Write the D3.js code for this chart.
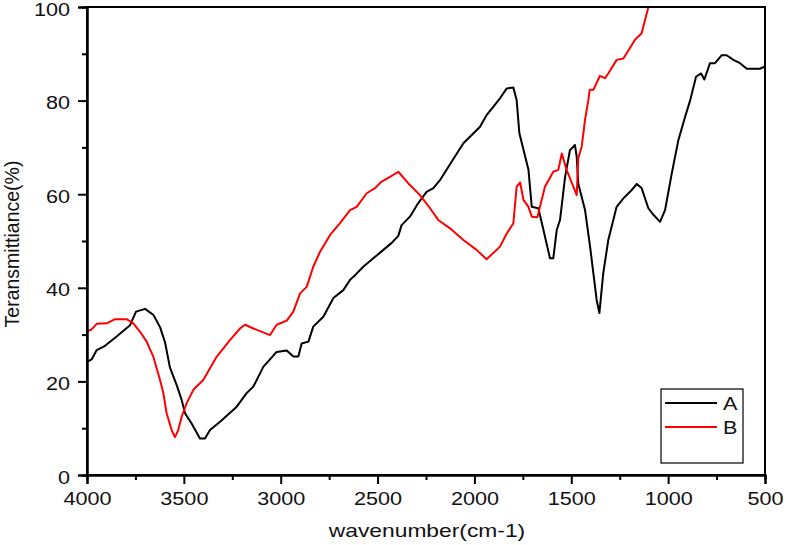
<!DOCTYPE html>
<html><head><meta charset="utf-8">
<script src="https://cdn.jsdelivr.net/npm/d3@7"></script>
<style>body{margin:0;background:#fff;}svg text{font-family:"Liberation Sans",Arial,sans-serif;fill:#111;}</style>
</head><body><svg id="c" width="786" height="545"></svg>
<script>
const waveA=[3995,3976,3950,3907,3847,3778,3747,3700,3657,3623,3597,3572,3537,3511,3494,3460,3417,3391,3365,3313,3227,3176,3141,3090,3021,2969,2935,2909,2892,2857,2832,2780,2728,2677,2642,2616,2574,2522,2470,2427,2393,2376,2333,2290,2247,2212,2178,2126,2057,1971,1937,1868,1833,1799,1782,1768,1721,1704,1670,1644,1610,1593,1575,1558,1532,1507,1481,1472,1464,1429,1403,1369,1355,1335,1309,1283,1266,1231,1188,1162,1137,1102,1076,1042,1016,981,947,912,886,856,830,813,784,758,723,698,663,629,594,526,500];
const transA=[24.3,24.7,26.7,27.6,29.6,32.0,34.9,35.5,34.2,31.6,28.3,23.0,19.2,16.0,13.2,11.0,7.8,7.8,9.6,11.4,14.6,17.5,18.9,23.1,26.3,26.6,25.3,25.3,28.1,28.5,31.7,33.8,37.8,39.5,41.7,42.7,44.5,46.3,48.1,49.6,51.1,53.4,55.2,58.1,60.5,61.3,63.0,66.4,70.9,74.4,76.9,80.5,82.6,82.8,80.1,73.0,65.2,57.3,57.0,52.4,46.3,46.3,52.4,54.5,63.7,69.4,70.5,68.0,62.3,56.6,48.8,37.4,34.6,43.1,50.2,54.5,57.3,59.1,60.9,62.2,61.3,57.0,55.6,54.1,56.6,64.5,71.6,76.6,80.1,85.1,85.8,84.5,88.0,88.0,89.7,89.7,88.7,88.0,86.8,86.8,87.3];
const waveB=[3995,3976,3950,3898,3855,3795,3761,3726,3692,3658,3623,3606,3589,3563,3546,3529,3511,3486,3451,3400,3330,3262,3210,3184,3141,3055,3021,2969,2935,2900,2866,2832,2797,2745,2694,2642,2608,2556,2513,2479,2436,2393,2341,2281,2229,2187,2126,2057,1989,1937,1868,1833,1799,1782,1764,1747,1721,1704,1675,1636,1593,1567,1549,1524,1472,1464,1446,1429,1412,1405,1386,1352,1326,1309,1266,1231,1171,1137,1102];
const transB=[30.8,31.1,32.3,32.4,33.3,33.3,32.4,30.6,28.5,25.3,20.3,17.5,13.2,9.6,8.1,9.6,12.5,15.3,18.2,20.3,25.3,28.8,31.3,32.1,31.3,29.9,32.1,33.0,34.9,38.8,40.2,44.5,47.7,51.3,53.8,56.6,57.3,60.2,61.3,62.7,63.7,64.8,62.3,59.8,57.0,54.5,52.7,50.2,48.1,46.1,48.8,51.6,53.8,61.6,62.5,58.8,57.3,55.2,55.1,61.6,64.8,65.2,68.7,65.2,59.8,67.7,70.2,75.9,80.1,82.3,82.3,85.3,84.8,85.8,88.7,89.0,93.0,94.4,100.0];
const xTicks=[4000,3500,3000,2500,2000,1500,1000,500];
const xMinor=[3750,3250,2750,2250,1750,1250,750];
const yTicks=[0,20,40,60,80,100];
const yMinor=[10,30,50,70,90];
const seriesNames=["A","B"];
const seriesColors=["#000000","#ff0000"];

const svg=d3.select("#c");
const x=d3.scaleLinear().domain([4000,500]).range([87,765]);
const y=d3.scaleLinear().domain([0,100]).range([475,7]);

svg.append("defs").append("clipPath").attr("id","clip").append("rect")
  .attr("x",87).attr("y",7).attr("width",678).attr("height",468);

const line=d3.line().x(d=>x(d[0])).y(d=>y(d[1]));
const dataA=waveA.map((w,i)=>[w,transA[i]]);
const dataB=waveB.map((w,i)=>[w,transB[i]]);
const plot=svg.append("g").attr("clip-path","url(#clip)");
plot.append("path").datum(dataA).attr("d",line).attr("fill","none").attr("stroke",seriesColors[0]).attr("stroke-width",2).attr("stroke-linejoin","round");
plot.append("path").datum(dataB).attr("d",line).attr("fill","none").attr("stroke",seriesColors[1]).attr("stroke-width",2).attr("stroke-linejoin","round");

// frame
svg.append("rect").attr("x",87).attr("y",7).attr("width",678).attr("height",468)
  .attr("fill","none").attr("stroke","#000").attr("stroke-width",2);

// axes
const xAxis=svg.append("g").attr("transform","translate(0,475)")
  .call(d3.axisBottom(x).tickValues(xTicks).tickFormat(d3.format("d")).tickSize(9).tickPadding(8));
svg.append("g").attr("transform","translate(0,475)")
  .call(d3.axisBottom(x).tickValues(xMinor).tickFormat("").tickSize(5));
const yAxis=svg.append("g").attr("transform","translate(87,0)")
  .call(d3.axisLeft(y).tickValues(yTicks).tickSize(9).tickPadding(8));
svg.append("g").attr("transform","translate(87,0)")
  .call(d3.axisLeft(y).tickValues(yMinor).tickFormat("").tickSize(5));
svg.selectAll(".domain").attr("stroke","#000").attr("stroke-width",2);
svg.selectAll(".tick line").attr("stroke","#000").attr("stroke-width",2);
svg.selectAll(".tick text").attr("font-size",18).style("font-family","'Liberation Sans',Arial,sans-serif").attr("fill","#111");
yAxis.selectAll(".tick text").attr("dy","0.45em");

// stretch texts horizontally
function stretch(sel,f){sel.each(function(){const L=this.getComputedTextLength();if(L>0){d3.select(this).attr("textLength",L*f).attr("lengthAdjust","spacingAndGlyphs");}});}
stretch(xAxis.selectAll(".tick text"),1.2);
stretch(yAxis.selectAll(".tick text"),1.2);

const xl=svg.append("text").attr("x",427).attr("y",537).attr("text-anchor","middle").attr("font-size",19).text("wavenumber(cm-1)");
stretch(xl,1.2);
svg.append("text").attr("transform","translate(19,244) rotate(-90)").attr("text-anchor","middle").attr("font-size",19.5).text("Teransmittiance(%)");

// legend
const lg=svg.append("g");
lg.append("rect").attr("x",661).attr("y",389).attr("width",82).attr("height",74).attr("fill","#fff").attr("stroke","#000").attr("stroke-width",1.2);
seriesNames.forEach((n,i)=>{
  const yy=403+i*24;
  lg.append("line").attr("x1",665).attr("x2",717).attr("y1",yy).attr("y2",yy).attr("stroke",seriesColors[i]).attr("stroke-width",2);
  const t=lg.append("text").attr("x",723).attr("y",yy+6.5).attr("font-size",18).text(n);
  stretch(t,1.2);
});
</script></body></html>
